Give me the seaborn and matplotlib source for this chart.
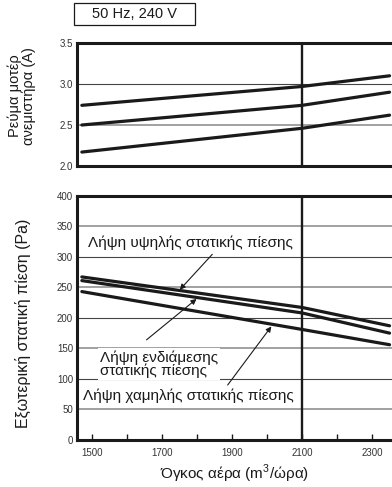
import matplotlib
matplotlib.use("Agg")
import matplotlib.pyplot as plt
from matplotlib.patches import Rectangle
import seaborn as sns
import pandas as pd

# Air volume (m3/h) at which each curve is given
airflow = [1470, 2100, 2350]

# Fan motor current (A)
current_high = [2.74, 2.97, 3.10]
current_mid = [2.50, 2.74, 2.90]
current_low = [2.17, 2.46, 2.62]

# External static pressure (Pa)
esp_high = [267, 217, 187]
esp_mid = [261, 208, 175]
esp_low = [243, 181, 156]

xticks_labeled = [1500, 1700, 1900, 2100, 2300]
xticks_minor = [1500, 1600, 1700, 1800, 1900, 2000, 2100, 2200, 2300]
current_ticks = [2.0, 2.5, 3.0, 3.5]
esp_ticks = [0, 50, 100, 150, 200, 250, 300, 350, 400]

sns.set_theme(style="white")
plt.rcParams["font.family"] = ["Liberation Sans", "DejaVu Sans"]
plt.rcParams["mathtext.fontset"] = "custom"
plt.rcParams["mathtext.rm"] = "Liberation Sans"

W, H = 392, 487
fig = plt.figure(figsize=(W / 100, H / 100), dpi=100)


def frac_box(left, top, right, bottom):
    return [left / W, 1 - bottom / H, (right - left) / W, (bottom - top) / H]


ax1 = fig.add_axes(frac_box(77.3, 43, 392, 166))
ax2 = fig.add_axes(frac_box(77.3, 195.7, 392, 440))

XMIN, XMAX = 1457, 2357
DARK = "#1a1a1a"

curr_df = pd.DataFrame({
    "airflow": airflow * 3,
    "value": current_high + current_mid + current_low,
    "tap": ["high"] * 3 + ["mid"] * 3 + ["low"] * 3,
})
esp_df = pd.DataFrame({
    "airflow": airflow * 3,
    "value": esp_high + esp_mid + esp_low,
    "tap": ["high"] * 3 + ["mid"] * 3 + ["low"] * 3,
})
pal = {"high": DARK, "mid": DARK, "low": DARK}


def style_axes(ax, yticks, dark_lines, grey_lines):
    for y in grey_lines:
        ax.axhline(y, color="#9a9a9a", lw=1.3, zorder=1)
    for y in dark_lines:
        ax.axhline(y, color="#444444", lw=0.8, zorder=1)
    ax.axvline(2100, color=DARK, lw=1.7, zorder=2)
    ax.set_xlim(XMIN, XMAX)
    ax.set_ylim(yticks[0], yticks[-1])
    ax.set_yticks(yticks)
    ax.tick_params(axis="y", length=0, labelsize=7, labelcolor="#333333", pad=3)
    for side in ("left", "top", "bottom"):
        ax.spines[side].set_visible(True)
        ax.spines[side].set_linewidth(2.2)
        ax.spines[side].set_color(DARK)
    ax.spines["right"].set_visible(False)
    ax.set_facecolor("white")


sns.lineplot(data=curr_df, x="airflow", y="value", hue="tap", palette=pal,
             lw=2.3, legend=False, ax=ax1, zorder=3)
style_axes(ax1, current_ticks, [3.0], [2.5])
ax1.set_yticklabels([f"{v:.1f}" for v in current_ticks])
ax1.set_xticks([])
ax1.set_xlabel("")
ax1.set_ylabel("Ρεύμα μοτέρ\nανεμιστήρα (A)", fontsize=10.5,
               linespacing=0.95, color=DARK)
ax1.yaxis.set_label_coords(-0.131, 0.57)

sns.lineplot(data=esp_df, x="airflow", y="value", hue="tap", palette=pal,
             lw=2.3, legend=False, ax=ax2, zorder=3)
style_axes(ax2, esp_ticks, [100, 200, 300], [50, 150, 250, 350])
ax2.set_xticks(xticks_minor)
ax2.set_xticklabels([str(v) if v in xticks_labeled else "" for v in xticks_minor])
ax2.tick_params(axis="x", direction="in", length=4, width=1, color=DARK,
                labelsize=7, labelcolor="#333333", pad=6, bottom=True)
ax2.set_xlabel("Όγκος αέρα (m$^3$/ώρα)", fontsize=11, color=DARK, labelpad=3)
ax2.set_ylabel("Εξωτερική στατική πίεση (Pa)", fontsize=11.5, color=DARK)
ax2.yaxis.set_label_coords(-0.146, 0.479)

arrow = dict(arrowstyle="-|>", lw=0.8, color=DARK, mutation_scale=8,
             shrinkA=0, shrinkB=0)
box = dict(facecolor="white", edgecolor="none", pad=1.5)

ax2.annotate("", xy=(1750, 246), xytext=(1843, 304), arrowprops=arrow, zorder=5)
ax2.annotate("", xy=(1798, 231), xytext=(1655, 164), arrowprops=arrow, zorder=5)
ax2.annotate("", xy=(2012, 186), xytext=(1887, 90), arrowprops=arrow, zorder=5)

ax2.text(1488, 323, "Λήψη υψηλής στατικής πίεσης", fontsize=11, color=DARK,
         ha="left", va="center", bbox=box, zorder=6)
ax2.text(1522, 124, "Λήψη ενδιάμεσης\nστατικής πίεσης", fontsize=11,
         color=DARK, ha="left", va="center", linespacing=0.9, bbox=box, zorder=6)
ax2.text(1474, 72, "Λήψη χαμηλής στατικής πίεσης", fontsize=11, color=DARK,
         ha="left", va="center", bbox=box, zorder=6)

# Operating condition label
fig.patches.append(Rectangle((74 / W, 1 - 25 / H), 121 / W, 22 / H,
                             transform=fig.transFigure, fill=False,
                             edgecolor=DARK, lw=0.9))
fig.text(134.5 / W, 1 - 14 / H, "50 Hz, 240 V", fontsize=10.5, color=DARK,
         ha="center", va="center")

fig.savefig("out.png", dpi=100)
